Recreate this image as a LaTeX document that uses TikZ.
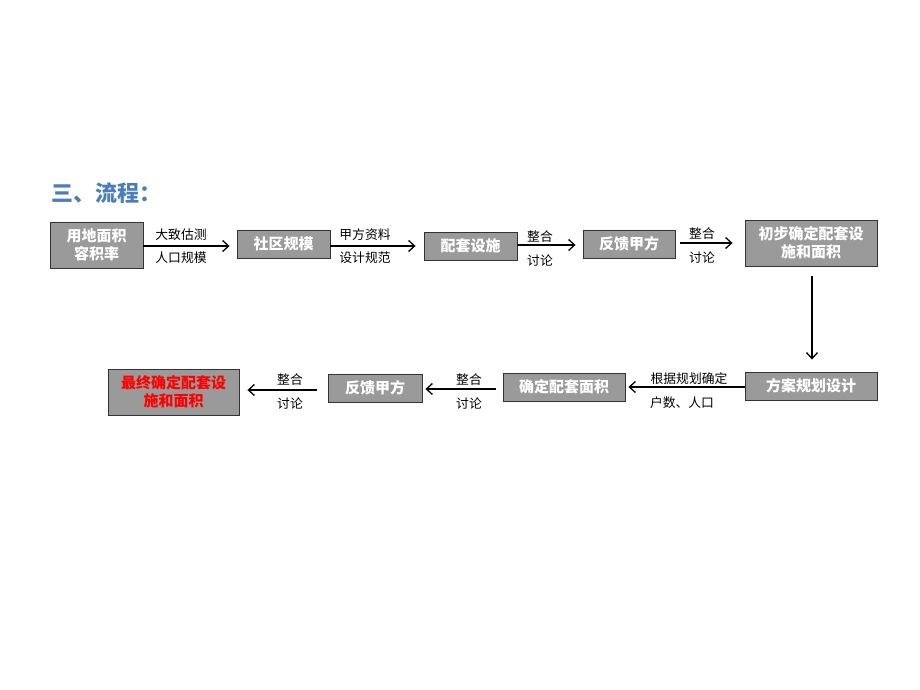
\documentclass[tikz,border=0pt]{standalone}
\usepackage{fontspec}
\setmainfont{Noto Sans CJK SC}
\usetikzlibrary{arrows.meta}
\definecolor{boxgray}{HTML}{9A9A9A}
\definecolor{titleblue}{HTML}{4A7EBB}
\tikzset{
  box/.style={draw=black!80, line width=0.9pt, fill=boxgray, text=white, font=\bfseries\fontsize{15}{18}\selectfont, align=center, inner sep=0pt},
  lbl/.style={font=\fontsize{12.8}{14}\selectfont, inner sep=0pt},
  flow/.style={draw=black, line width=1.3pt, -{Straight Barb[length=6pt,width=11pt,line width=1.3pt]}}
}
\begin{document}
\begin{tikzpicture}[x=1pt,y=-1pt]
\useasboundingbox (0,0) rectangle (920,690);
\fill[white] (0,0) rectangle (920,690);
\node[font=\bfseries\fontsize{22}{25}\selectfont, text=titleblue, anchor=west, inner sep=0pt] (title) at (51,193) {三、流程：};
% boxes
\node[box, minimum width=93pt, minimum height=46pt] (b1) at (96.5,245) {用地面积\\容积率};
\node[box, minimum width=93pt, minimum height=28pt] (b2) at (283.5,244) {社区规模};
\node[box, minimum width=93pt, minimum height=28pt] (b3) at (470.5,246) {配套设施};
\node[box, minimum width=92pt, minimum height=28pt] (b4) at (629,244) {反馈甲方};
\node[box, minimum width=132pt, minimum height=46pt] (b5) at (811,243) {初步确定配套设\\施和面积};
\node[box, minimum width=132pt, minimum height=28pt] (b6) at (811,386) {方案规划设计};
\node[box, minimum width=122pt, minimum height=28pt] (b7) at (564,387) {确定配套面积};
\node[box, minimum width=94pt, minimum height=28pt] (b8) at (375,388) {反馈甲方};
\node[box, minimum width=131pt, minimum height=46pt, text=red] (b9) at (173.5,392) {最终确定配套设\\施和面积};
% arrows
\draw[flow] (b1.east |- 0,246) -- ([xshift=-7pt]b2.west |- 0,246);
\draw[flow] (b2.east |- 0,246) -- ([xshift=-8pt]b3.west |- 0,246);
\draw[flow] (b3.east |- 0,245) -- ([xshift=-7pt]b4.west |- 0,245);
\draw[flow] ([xshift=5pt]b4.east |- 0,243) -- ([xshift=-12pt]b5.west |- 0,243);
\draw[flow] ([yshift=-10pt]b5.south -| 812,0) -- ([yshift=12pt]b6.north -| 812,0);
\draw[flow] (b6.west |- 0,387) -- ([xshift=3pt]b7.east |- 0,387);
\draw[flow] ([xshift=-7pt]b7.west |- 0,389) -- ([xshift=3pt]b8.east |- 0,389);
\draw[flow] ([xshift=-11pt]b8.west |- 0,390) -- ([xshift=8pt]b9.east |- 0,390);
% labels
\node[lbl] (l1a) at (181,235) {大致估测};
\node[lbl] (l1b) at (181,258) {人口规模};
\node[lbl] (l2a) at (365,235) {甲方资料};
\node[lbl] (l2b) at (365,258) {设计规范};
\node[lbl] (l3a) at (540,237) {整合};
\node[lbl] (l3b) at (540,260) {讨论};
\node[lbl] (l4a) at (702,234) {整合};
\node[lbl] (l4b) at (702,257) {讨论};
\node[lbl] (l5a) at (689,379) {根据规划确定};
\node[lbl] (l5b) at (682,403) {户数、人口};
\node[lbl] (l6a) at (469,380) {整合};
\node[lbl] (l6b) at (469,403) {讨论};
\node[lbl] (l7a) at (290,380) {整合};
\node[lbl] (l7b) at (290,403) {讨论};
\end{tikzpicture}
\end{document}
